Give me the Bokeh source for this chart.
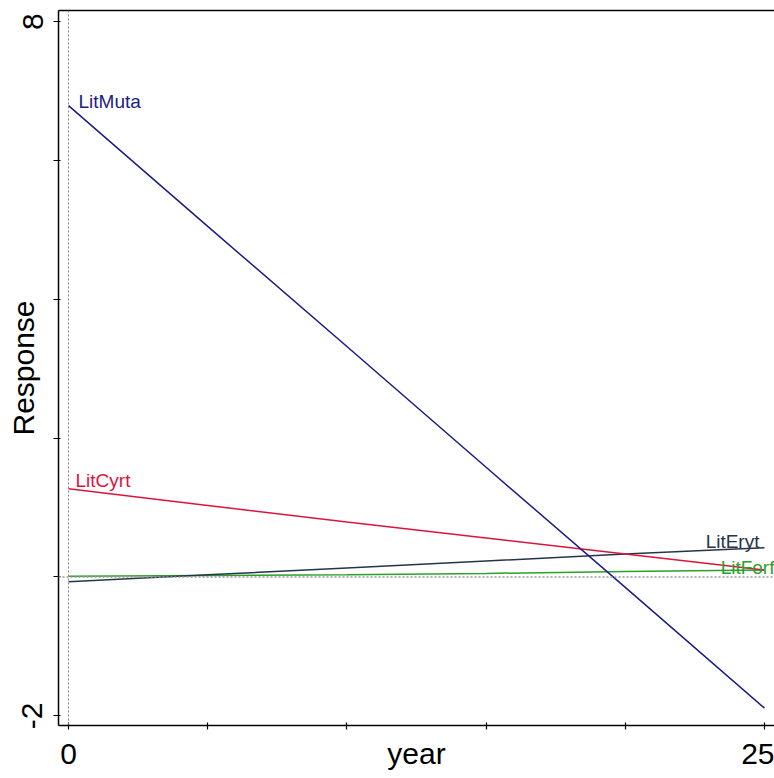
from bokeh.plotting import figure
from bokeh.models import Range1d, FixedTicker, LinearAxis, Span, Label
from bokeh.embed import file_html
from bokeh.resources import INLINE

# ---- data ----
years = [0, 5, 10, 15, 20, 25]
lit_muta = [6.79, 5.05, 3.32, 1.58, -0.15, -1.89]
lit_cyrt = [1.27, 1.03, 0.79, 0.56, 0.33, 0.10]
lit_eryt = [-0.07, 0.03, 0.13, 0.23, 0.33, 0.42]
lit_forf = [0.01, 0.02, 0.03, 0.05, 0.08, 0.10]
series_names = ["LitMuta", "LitCyrt", "LitEryt", "LitForf"]
x_ticks = [0, 5, 10, 15, 20, 25]
x_tick_labels = {0: "0", 5: "", 10: "", 15: "", 20: "", 25: "25"}
y_ticks = [-2, 0, 2, 4, 6, 8]
y_tick_labels = {-2: "-2", 0: "", 2: "", 4: "", 6: "", 8: "8"}

FONT = "Liberation Sans"
C_MUTA = "#1c1c85"
C_CYRT = "#dc143c"
C_ERYT = "#253548"
C_FORF = "#2ca02c"

p = figure(width=774, height=778,
           x_range=Range1d(-0.36, 25.36), y_range=Range1d(-2.14, 8.16),
           output_backend="svg", toolbar_location=None,
           min_border_left=58, min_border_right=0,
           min_border_top=10, min_border_bottom=53)
p.xgrid.visible = False
p.ygrid.visible = False
p.outline_line_color = None
p.background_fill_color = "white"
p.border_fill_color = "white"

# reference lines
p.add_layout(Span(location=0, dimension="height", line_color="#888888",
                  line_dash="2 2", line_width=1))
p.add_layout(Span(location=0, dimension="width", line_color="#999999",
                  line_dash="2 2", line_width=1.5))

# series
p.line(years, lit_forf, line_color=C_FORF, line_width=1.5)
p.line(years, lit_eryt, line_color=C_ERYT, line_width=1.5)
p.line(years, lit_cyrt, line_color=C_CYRT, line_width=1.5)
p.line(years, lit_muta, line_color=C_MUTA, line_width=1.5)

# series labels
lab_kw = dict(text_font=FONT, text_font_size="19px", text_baseline="alphabetic")
p.add_layout(Label(x=years[0], y=lit_muta[0], text=series_names[0], text_color=C_MUTA,
                   x_offset=10, y_offset=4, text_align="left", **lab_kw))
p.add_layout(Label(x=years[0], y=lit_cyrt[0], text=series_names[1], text_color=C_CYRT,
                   x_offset=7, y_offset=8, text_align="left", **lab_kw))
p.add_layout(Label(x=years[-1], y=lit_eryt[-1], text=series_names[2], text_color=C_ERYT,
                   x_offset=-5, y_offset=6, text_align="right", **lab_kw))
p.add_layout(Label(x=years[-1], y=lit_forf[-1], text=series_names[3], text_color=C_FORF,
                   x_offset=10, y_offset=3, text_align="right", **lab_kw))

# axes
for ax in (p.xaxis[0], p.yaxis[0]):
    ax.axis_line_color = "black"
    ax.axis_line_width = 1.5
    ax.major_tick_line_color = "black"
    ax.major_tick_line_width = 1.2
    ax.minor_tick_line_color = None
    ax.major_label_text_font = FONT
    ax.major_label_text_font_size = "30px"
    ax.major_label_text_color = "black"
    ax.axis_label_text_font = FONT
    ax.axis_label_text_font_size = "30px"
    ax.axis_label_text_font_style = "normal"
    ax.axis_label_text_color = "black"

p.xaxis.ticker = FixedTicker(ticks=x_ticks)
p.xaxis.major_label_overrides = x_tick_labels
p.xaxis.axis_label = "year"
p.xaxis.major_tick_out = 4
p.xaxis.major_tick_in = 3
p.xaxis.major_label_standoff = 14
p.xaxis.axis_label_standoff = -30

p.yaxis.ticker = FixedTicker(ticks=y_ticks)
p.yaxis.major_label_overrides = y_tick_labels
p.yaxis.axis_label = "Response"
p.yaxis.major_label_orientation = "parallel"
p.yaxis.major_tick_out = 5
p.yaxis.major_tick_in = 2
p.yaxis.major_label_standoff = 11
p.yaxis.axis_label_standoff = -20

top_axis = LinearAxis(ticker=FixedTicker(ticks=[]), axis_line_color="black",
                      axis_line_width=1.5, major_tick_out=0, major_tick_in=0,
                      major_label_text_font_size="0px", minor_tick_line_color=None)
p.add_layout(top_axis, "above")

open("out.html", "w").write(file_html(p, INLINE))
